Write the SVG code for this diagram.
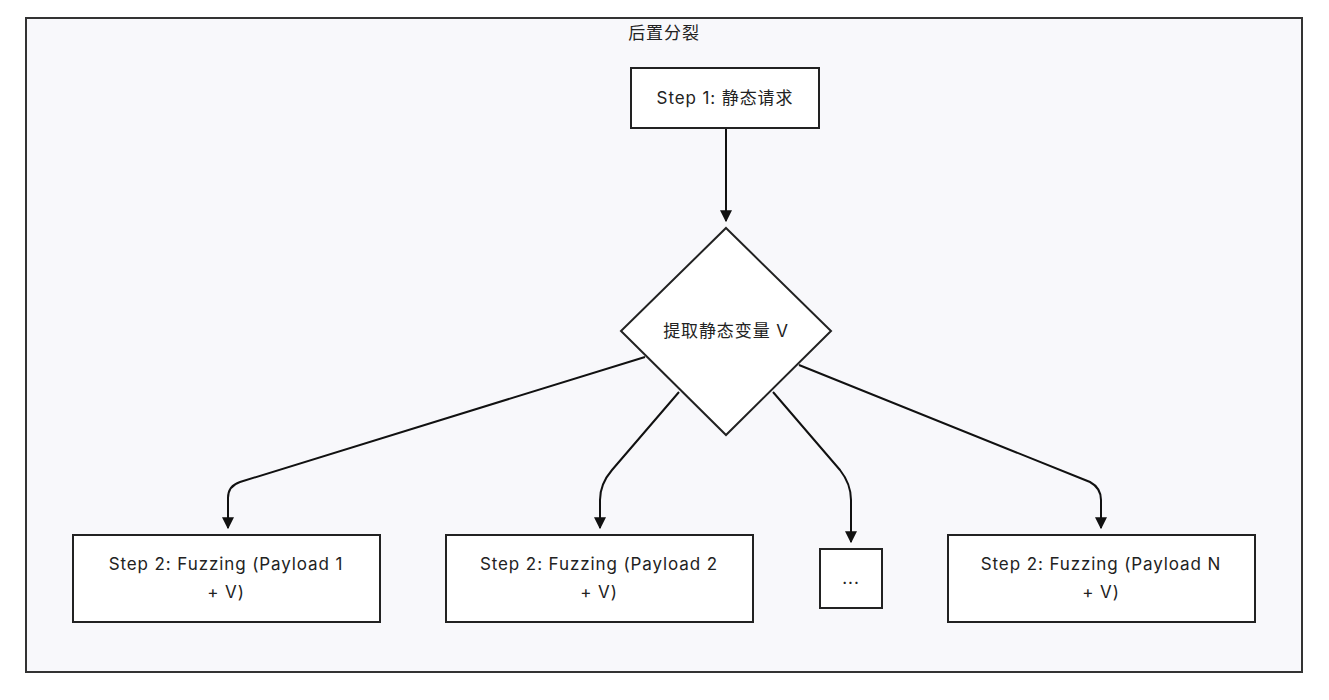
<svg xmlns="http://www.w3.org/2000/svg" width="1329" height="700" viewBox="0 0 1329 700">
<style>
text{font-family:"Inter","Noto Sans CJK SC",sans-serif;font-size:17px;letter-spacing:0.9px;fill:#222;text-anchor:middle}
.n{fill:#fff;stroke:#222;stroke-width:2}
.e{fill:none;stroke:#111;stroke-width:2;marker-end:url(#a)}
</style>
<defs><marker id="a" viewBox="0 0 10 10" refX="9" refY="5" markerWidth="6" markerHeight="6" orient="auto"><path d="M0,0L10,5L0,10z" fill="#111"/></marker></defs>
<rect width="1329" height="700" fill="#fff"/>
<g id="cluster"><rect x="26" y="18" width="1276" height="654" fill="#f8f8fb" stroke="#333" stroke-width="2"/><text x="664" y="39">后置分裂</text></g>
<g id="edges">
<path class="e" d="M726,128 L726,221"/>
<path class="e" d="M645,357 L240,482 Q228,486 228,498 L228,528"/>
<path class="e" d="M679,392 L612,470 Q600,484 600,500 L600,528"/>
<path class="e" d="M773,392 L840,470 Q851,484 851,500 L851,542"/>
<path class="e" d="M799,365 L1090,482 Q1101,488 1101,500 L1101,528"/>
</g>
<g id="s1"><rect class="n" x="631" y="68" width="188" height="60"/><text x="725" y="104">Step 1: 静态请求</text></g>
<g id="d"><polygon class="n" points="726,228 831,331 726,435 621,331"/><text x="726" y="337">提取静态变量 V</text></g>
<g id="b1"><rect class="n" x="73" y="535" width="307" height="87"/><text x="226" y="570">Step 2: Fuzzing (Payload 1</text><text x="226" y="598">+ V)</text></g>
<g id="b2"><rect class="n" x="446" y="535" width="307" height="87"/><text x="599" y="570">Step 2: Fuzzing (Payload 2</text><text x="599" y="598">+ V)</text></g>
<g id="b3"><rect class="n" x="820" y="549" width="62" height="59"/><text x="851" y="584">...</text></g>
<g id="b4"><rect class="n" x="948" y="535" width="307" height="87"/><text x="1101" y="570">Step 2: Fuzzing (Payload N</text><text x="1101" y="598">+ V)</text></g>
</svg>
